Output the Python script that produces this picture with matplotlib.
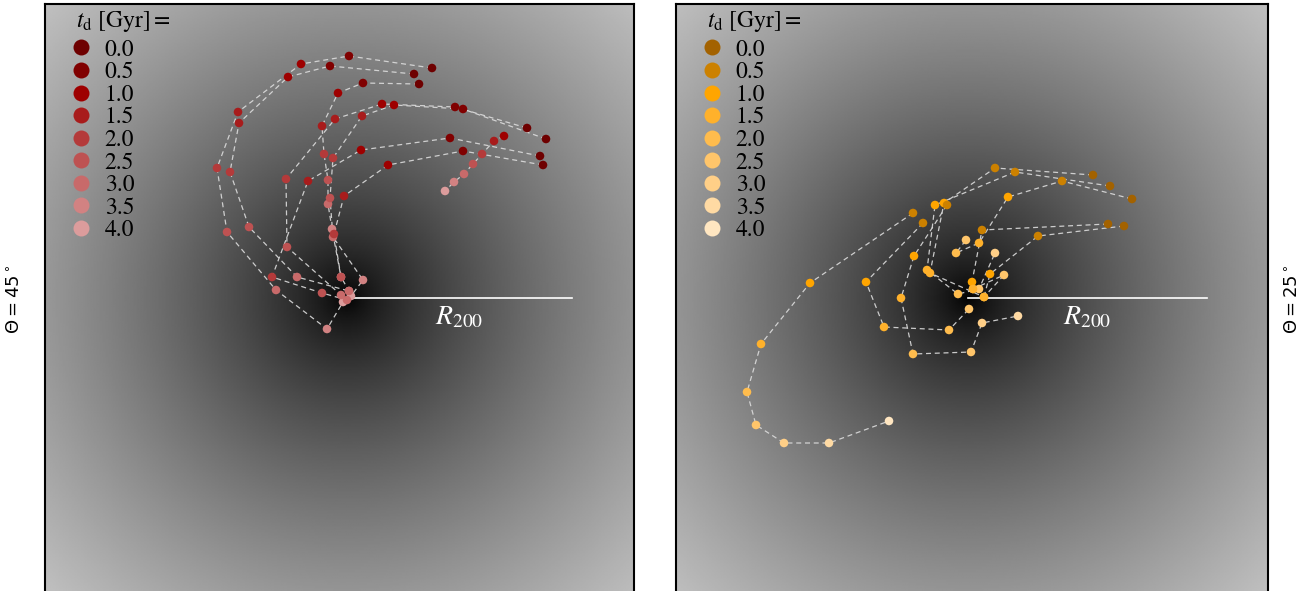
import numpy as np
import matplotlib
matplotlib.use("Agg")
import matplotlib.pyplot as plt
from matplotlib.lines import Line2D

plt.rcParams['mathtext.fontset'] = 'stix'
plt.rcParams['font.family'] = ['STIXGeneral', 'DejaVu Sans']

# snapshot times [Gyr]
times = [0.0, 0.5, 1.0, 1.5, 2.0, 2.5, 3.0, 3.5, 4.0]

left_colors = ['#6e0000', '#800000', '#9e0000', '#a81c1c', '#b43a3a',
               '#be5252', '#c86a6a', '#d28282', '#dc9c9c']
right_colors = ['#a36200', '#cc8100', '#ffa500', '#ffb12b', '#ffbc4d',
                '#ffc56a', '#ffcf87', '#ffdaa3', '#ffe6c1']

# satellite positions (kpc, projected, host at origin)
left_x = [
    [85, 2, -46, -109, -130, -120, -71, -20, -4],
    [67, -17, -59, -108, -117, -98, -50, 2],
    [72, 16, -9, -25, -23, -19, -19, -15, -6],
    [180, 108, 35, -12, -61, -60, -6],
    [199, 116, 47, 15, -14, -17, -14, 16, 4],
    [193, 103, 14, -39, -75, -25, 0],
    [196, 116, 41, -3, -13, -6, 2],
    [157, 147, 135, 126, 117, 107, 98],
]
left_y = [
    [230, 242, 234, 186, 130, 66, 8, -31, -4],
    [224, 232, 221, 175, 126, 71, 21, 7],
    [214, 215, 205, 172, 144, 118, 94, 69, 21],
    [170, 191, 194, 179, 119, 51, 3],
    [159, 189, 193, 182, 140, 100, 61, 18, 2],
    [142, 160, 148, 117, 21, 5, -2],
    [133, 147, 133, 102, 64, 21, 7],
    [162, 157, 144, 134, 124, 116, 107],
]
left_start = [0.0, 0.0, 0.0, 0.0, 0.0, 0.0, 0.0, 1.0]

right_x = [
    [125, 27, -24, -38, 16, 36, 5],
    [142, 47, -33, -41, -10, 11, 27],
    [164, 94, 40, 11, -12, -2],
    [140, 14, 4, 5],
    [156, 70, 22, 16],
    [-55, -158, -207, -221, -212, -184, -139, -79],
    [-45, -102, -84, -19, 1],
    [-21, -54, -67, -55, 3, 14, 50],
]
right_y = [
    [123, 130, 95, 25, 1, 23, 9],
    [112, 126, 93, 28, 4, 9, 45],
    [99, 117, 101, 55, 45, 58],
    [74, 68, 16, 9],
    [72, 62, 24, 1],
    [85, 15, -46, -94, -127, -145, -145, -123],
    [75, 16, -29, -32, -11],
    [93, 42, 0, -56, -54, -25, -18],
]
right_start = [0.0, 0.0, 0.0, 0.0, 0.0, 0.5, 0.5, 0.5]

left_r200 = 225
right_r200 = 239
left_lim = [(-302, 287), (-295, 294)]
right_lim = [(-292, 300), (-295, 294)]


def halo(ax, xlim, ylim):
    gx = np.linspace(xlim[0], xlim[1], 400)
    gy = np.linspace(ylim[0], ylim[1], 400)
    X, Y = np.meshgrid(gx, gy)
    r = np.sqrt(X**2 + Y**2)
    v = np.clip(0.75 * (r / 420.0)**0.7, 0, 1)
    ax.imshow(v, cmap='gray', vmin=0, vmax=1, origin='lower',
              extent=[xlim[0], xlim[1], ylim[0], ylim[1]], aspect='auto',
              interpolation='bilinear', zorder=0)


def panel(ax, xs, ys, starts, colors, r200, lim):
    halo(ax, lim[0], lim[1])
    ax.plot([0, r200], [0, 0], color='white', lw=1.2, zorder=1)
    ax.text(r200 / 2, -20, r'$R_{200}$', color='white', fontsize=20,
            ha='center', va='center', zorder=1)
    for x, y, t0 in zip(xs, ys, starts):
        ax.plot(x, y, color='#dcdcdc', lw=0.9, ls=(0, (4, 3)), alpha=0.9, zorder=2)
        i0 = times.index(t0)
        c = [colors[i0 + k] for k in range(len(x))]
        ax.scatter(x, y, s=38, c=c, edgecolors='none', zorder=3)
    handles = [Line2D([], [], ls='none', marker='o', ms=11.5, mec='none',
                      mfc=colors[i]) for i in range(len(times))]
    labels = ['%.1f' % t for t in times]
    ax.legend(handles, labels, loc='upper left', frameon=False,
              bbox_to_anchor=(0.0333, 0.9525), fontsize=17,
              labelspacing=0.045, handlelength=0.8, handletextpad=0.6,
              borderaxespad=0.0, borderpad=0.3)
    ax.text(0.0526, 0.9696, r'$t_{\rm d}$ [Gyr]$=$', transform=ax.transAxes,
            fontsize=17, ha='left', va='center')
    ax.set_xlim(lim[0])
    ax.set_ylim(lim[1])
    ax.set_xticks([])
    ax.set_yticks([])
    for s in ax.spines.values():
        s.set_linewidth(1.5)
        s.set_color('black')


fig = plt.figure(figsize=(13.11, 5.91), dpi=100)
ax1 = fig.add_axes([45 / 1311, -2 / 591, 589 / 1311, 589 / 591])
ax2 = fig.add_axes([676 / 1311, -2 / 591, 592 / 1311, 589 / 591])

panel(ax1, left_x, left_y, left_start, left_colors, left_r200, left_lim)
panel(ax2, right_x, right_y, right_start, right_colors, right_r200, right_lim)

fig.text(15 / 1311, 1 - 299 / 591, r'$\Theta=45^\circ$', rotation=90, ha='center',
         va='center', fontsize=13, math_fontfamily='dejavusans')
fig.text(1293 / 1311, 1 - 299 / 591, r'$\Theta=25^\circ$', rotation=90, ha='center',
         va='center', fontsize=13, math_fontfamily='dejavusans')

fig.savefig('out.png', dpi=100)
